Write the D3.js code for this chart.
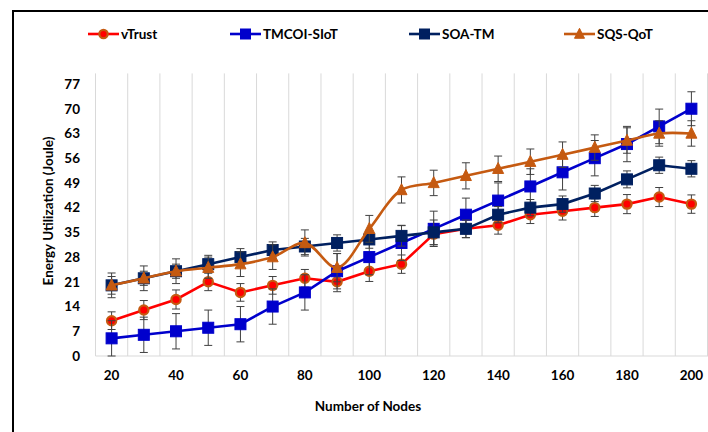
<!DOCTYPE html>
<html>
<head>
<meta charset="utf-8">
<script src="https://cdn.jsdelivr.net/npm/d3@7"></script>
<style>
  body { margin: 0; background: #fff; }
  text { font-family: Lato, "Open Sans", sans-serif; font-weight: bold; fill: #000; }
</style>
</head>
<body>
<div id="chart"></div>
<script>
// chart data
var nodes = [20, 30, 40, 50, 60, 70, 80, 90, 100, 110, 120, 130, 140, 150, 160, 170, 180, 190, 200];
var tickLabels = [20, 40, 60, 80, 100, 120, 140, 160, 180, 200];
var yTicks = [0, 7, 14, 21, 28, 35, 42, 49, 56, 63, 70, 77];

var vTrust = [10, 13, 16, 21, 18, 20, 22, 21, 24, 26, 34.5, 36, 37, 40, 41, 42, 43, 45, 43];
var vTrustErr = [2.5, 2.7, 2.7, 2.5, 2.5, 2.5, 2.5, 2.8, 2.9, 2.6, 3, 2.5, 2.5, 2.5, 2.5, 2.5, 2.7, 2.7, 2.6];

var tmcoi = [5, 6, 7, 8, 9, 14, 18, 24, 28, 32, 36, 40, 44, 48, 52, 56, 60, 65, 70];
var tmcoiErr = [5, 5, 5, 5, 5, 5, 5, 5, 5, 5, 5, 4.7, 5, 5, 5, 5, 5, 4.9, 4.8];

var soaTm = [20, 22, 24, 26, 28, 30, 31, 32, 33, 34, 35, 36, 40, 42, 43, 46, 50, 54, 53];
var soaTmErr = [2.5, 2, 2, 2.5, 2.4, 2.3, 2.3, 2.3, 2.5, 2.9, 3.5, 2.5, 2.3, 2.3, 2.3, 2.3, 2.4, 2.3, 2.3];

var sqsQot = [20, 22, 24, 25, 26, 28, 32, 25, 36, 47, 49, 51, 53, 55, 57, 59, 61, 63, 63];
var sqsQotErr = [3.5, 3.5, 3.5, 3, 3.5, 3.5, 3.7, 4, 3.8, 3.7, 3.6, 3.7, 3.6, 3.6, 3.6, 3.6, 3.6, 3.6, 3.6];

var svgWidth = 708;
var svgHeight = 432;

var svg = d3.select("#chart")
  .append("svg")
  .attr("width", svgWidth)
  .attr("height", svgHeight);

// outer frame (only top and left edges visible)
svg.append("path")
  .attr("d", "M13,440 L13,11 L720,11")
  .attr("fill", "none")
  .attr("stroke", "#000")
  .attr("stroke-width", 2);

// scales
var xBand = d3.scaleBand()
  .domain(nodes)
  .range([95.5, 707.5]);

var x = d => xBand(d) + xBand.bandwidth() / 2;

var yScale = d3.scaleLinear()
  .domain([0, 77])
  .range([356, 84]);

// vertical gridlines between categories
var gridX = nodes.map(d => xBand(d)).concat([xBand.range()[1]]);
svg.append("g")
  .selectAll("line")
  .data(gridX)
  .enter()
  .append("line")
  .attr("x1", d => d)
  .attr("x2", d => d)
  .attr("y1", yScale(80))
  .attr("y2", yScale(0))
  .attr("stroke", "#d9d9d9")
  .attr("stroke-width", 1);

// x axis line
svg.append("line")
  .attr("x1", 95.5)
  .attr("x2", 708)
  .attr("y1", yScale(0))
  .attr("y2", yScale(0))
  .attr("stroke", "#d9d9d9")
  .attr("stroke-width", 1);

// y tick labels
var leftAxis = d3.axisLeft(yScale).tickValues(yTicks).tickSize(0).tickPadding(0);
var yAxisG = svg.append("g")
  .attr("transform", "translate(80,0)")
  .call(leftAxis);
yAxisG.select(".domain").remove();
yAxisG.selectAll("text")
  .attr("font-size", "13.5px")
  .attr("font-family", "Lato, sans-serif")
  .attr("font-weight", "bold")
  .attr("fill", "#000");

// x tick labels
var bottomAxis = d3.axisBottom(xBand).tickValues(tickLabels).tickSize(0).tickPadding(0);
var xAxisG = svg.append("g")
  .attr("transform", "translate(0,370)")
  .call(bottomAxis);
xAxisG.select(".domain").remove();
xAxisG.selectAll("text")
  .attr("font-size", "13.5px")
  .attr("font-family", "Lato, sans-serif")
  .attr("font-weight", "bold")
  .attr("fill", "#000");

// axis titles
svg.append("text")
  .attr("x", 368)
  .attr("y", 411)
  .attr("text-anchor", "middle")
  .attr("font-size", "13.5px")
  .text("Number of Nodes");

svg.append("text")
  .attr("transform", "translate(53,211) rotate(-90)")
  .attr("text-anchor", "middle")
  .attr("font-size", "13.5px")
  .text("Energy Utilization (Joule)");

// series definitions
var series = [
  { name: "vTrust", values: vTrust, err: vTrustErr, color: "#ff0000", marker: "circle", smooth: false },
  { name: "TMCOI-SIoT", values: tmcoi, err: tmcoiErr, color: "#0000cc", marker: "square", smooth: false },
  { name: "SOA-TM", values: soaTm, err: soaTmErr, color: "#002060", marker: "square", smooth: false },
  { name: "SQS-QoT", values: sqsQot, err: sqsQotErr, color: "#c55a11", marker: "triangle", smooth: true }
];

function drawMarker(g, s, cx, cy, size) {
  if (s.marker === "circle") {
    g.append("circle")
      .attr("cx", cx)
      .attr("cy", cy)
      .attr("r", size * 0.42)
      .attr("fill", "#ff0000")
      .attr("stroke", "#c55a11")
      .attr("stroke-width", 2.2);
  } else if (s.marker === "square") {
    g.append("rect")
      .attr("x", cx - size / 2)
      .attr("y", cy - size / 2)
      .attr("width", size)
      .attr("height", size)
      .attr("fill", s.color)
      .attr("stroke", s.color)
      .attr("stroke-width", 1);
  } else {
    var h = size * 0.95;
    g.append("path")
      .attr("d", `M${cx},${cy - h * 0.6} L${cx + size / 2},${cy + h * 0.45} L${cx - size / 2},${cy + h * 0.45} Z`)
      .attr("fill", s.color)
      .attr("stroke", s.color)
      .attr("stroke-width", 1);
  }
}

series.forEach(function(s) {
  var g = svg.append("g");
  var pts = nodes.map((n, i) => ({ n: n, v: s.values[i], e: s.err[i] }));

  var line = d3.line()
    .x(d => x(d.n))
    .y(d => yScale(d.v))
    .curve(s.smooth ? d3.curveCatmullRom.alpha(0.5) : d3.curveLinear);

  g.append("path")
    .datum(pts)
    .attr("d", line)
    .attr("fill", "none")
    .attr("stroke", s.color)
    .attr("stroke-width", 2.6);

  // error bars
  var eb = g.append("g")
    .attr("stroke", "#404040")
    .attr("stroke-width", 1);
  pts.forEach(function(d) {
    var cx = x(d.n);
    var y1 = yScale(d.v + d.e);
    var y2 = yScale(d.v - d.e);
    eb.append("line").attr("x1", cx).attr("x2", cx).attr("y1", y1).attr("y2", y2);
    eb.append("line").attr("x1", cx - 4).attr("x2", cx + 4).attr("y1", y1).attr("y2", y1);
    eb.append("line").attr("x1", cx - 4).attr("x2", cx + 4).attr("y1", y2).attr("y2", y2);
  });

  pts.forEach(function(d) {
    drawMarker(g, s, x(d.n), yScale(d.v), 11);
  });
});

// legend
var legendX = [88, 230, 409, 564];
var legend = svg.append("g");
series.forEach(function(s, i) {
  var lx = legendX[i];
  var ly = 34;
  legend.append("line")
    .attr("x1", lx)
    .attr("x2", lx + 31)
    .attr("y1", ly)
    .attr("y2", ly)
    .attr("stroke", s.color)
    .attr("stroke-width", 2.6);
  drawMarker(legend, s, lx + 15.5, ly, 10);
  legend.append("text")
    .attr("x", lx + 33)
    .attr("y", ly)
    .attr("dy", "0.35em")
    .attr("font-size", "13.5px")
    .text(s.name);
});
</script>
</body>
</html>
